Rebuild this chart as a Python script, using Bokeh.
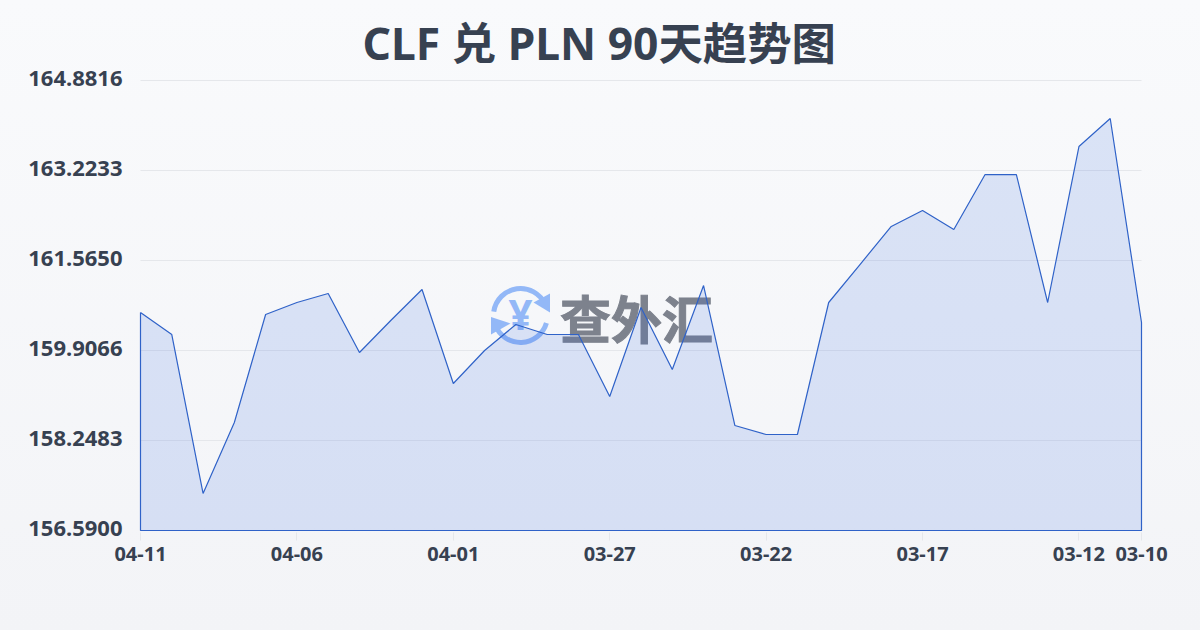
from bokeh.plotting import figure
from bokeh.embed import file_html
from bokeh.resources import INLINE
from bokeh.models import FixedTicker, Range1d, Title
from bokeh.core.properties import value

dates = ["04-11","04-10","04-09","04-08","04-07","04-06","04-05","04-04","04-03","04-02","04-01",
         "03-31","03-30","03-29","03-28","03-27","03-26","03-25","03-24","03-23","03-22",
         "03-21","03-20","03-19","03-18","03-17","03-16","03-15","03-14","03-13","03-12","03-11","03-10"]
rates = [160.607,160.201,157.272,158.580,160.570,160.791,160.957,159.870,160.459,161.031,159.299,
         159.907,160.386,160.201,160.201,159.059,160.699,159.557,161.104,158.525,158.359,
         158.359,160.791,161.491,162.192,162.486,162.136,163.149,163.149,160.791,163.665,164.181,160.423]
y_ticks = [156.5900,158.2483,159.9066,161.5650,163.2233,164.8816]
y_labels = ["156.5900","158.2483","159.9066","161.5650","163.2233","164.8816"]
x_tick_idx = [0,5,10,15,20,25,30,32]
title = "CLF 兑 PLN 90天趋势图"
brand = "查外汇"

xs = list(range(len(dates)))
base = y_ticks[0]
TXT = "#374151"
LATIN = "Noto Sans"
CJK = "Noto Sans CJK SC"
STACK = "'Noto Sans', 'Noto Sans CJK SC'"

# 2px of slack round the plot so the outline is not clipped by the frame
pad_x = 2 * (len(dates)-1) / 1001
px_y = (y_ticks[-1]-y_ticks[0]) / 450
pad_y = 2 * px_y

p = figure(width=1200, height=630, output_backend="svg", toolbar_location=None,
           x_range=Range1d(-pad_x, len(dates)-1+pad_x), y_range=Range1d(y_ticks[0]-pad_y, y_ticks[-1]+pad_y),
           min_border_left=138, min_border_right=57, min_border_top=78, min_border_bottom=98,
           background_fill_color=None, border_fill_color=None, outline_line_color=None)
p.extra_x_ranges["px"] = Range1d(138, 1143)
p.extra_y_ranges["px"] = Range1d(532, 78)
# y axis labels sit 2px above their gridlines
p.extra_y_ranges["labels"] = Range1d(y_ticks[0]-pad_y-2*px_y, y_ticks[-1]+pad_y-2*px_y)

p.add_layout(Title(text=title, align="left", offset=224, standoff=11, text_font=STACK,
                   text_font_style="bold", text_font_size="44.4px", text_color=TXT), "above")

# axes
p.yaxis[0].y_range_name = "labels"
p.yaxis.ticker = FixedTicker(ticks=y_ticks)
p.yaxis.major_label_overrides = dict(zip(y_ticks, y_labels))
p.yaxis.axis_line_color = None
p.yaxis.major_tick_line_color = None
p.yaxis.major_tick_out = 0
p.yaxis.major_tick_in = 0
p.yaxis.minor_tick_line_color = None
p.yaxis.major_label_standoff = 16
p.yaxis.major_label_text_font = LATIN
p.yaxis.major_label_text_font_size = "22px"
p.yaxis.major_label_text_font_style = "bold"
p.yaxis.major_label_text_color = TXT

p.xaxis.ticker = FixedTicker(ticks=x_tick_idx)
p.xaxis.major_label_overrides = {i: dates[i] for i in x_tick_idx}
p.xaxis.axis_line_color = None
p.xaxis.major_tick_line_color = "#e5e7eb"
p.xaxis.major_tick_in = 0
p.xaxis.major_tick_out = 8
p.xaxis.minor_tick_line_color = None
p.xaxis.major_label_standoff = 6
p.xaxis.major_label_text_font = LATIN
p.xaxis.major_label_text_font_size = "20px"
p.xaxis.major_label_text_font_style = "bold"
p.xaxis.major_label_text_color = TXT

p.grid.visible = False
p.segment([xs[0]]*len(y_ticks), y_ticks, [xs[-1]]*len(y_ticks), y_ticks, line_color="#e5e7eb", line_width=1)

# watermark, under the series
WM = {"x_range_name": "px", "y_range_name": "px"}
ICON = "#93b8f7"
p.text([636], [316], text=[brand], text_font=value(CJK), text_font_style="bold",
       text_font_size="51px", text_color="#7d828d", text_outline_color="#7d828d",
       text_align="center", text_baseline="middle", **WM)
p.text([520], [313], text=["¥"], text_font=value(LATIN), text_font_style="bold",
       text_font_size="42px", text_color=ICON, text_align="center", text_baseline="middle", **WM)
p.arc([520], [315], radius=27, radius_units="screen", start_angle=0.42, end_angle=3.0,
      line_color=ICON, line_width=5, **WM)
p.arc([520], [315], radius=27, radius_units="screen", start_angle=3.5, end_angle=6.0,
      line_color=ICON, line_width=5, **WM)
p.patch([549.5, 549.5, 533], [293, 312, 302], fill_color=ICON, line_color=None, **WM)
p.patch([490.5, 490.5, 510], [316.5, 334, 323], fill_color=ICON, line_color=None, **WM)

# series
p.varea(xs, [base]*len(xs), rates, fill_color="#2f68e0", fill_alpha=0.15)
p.line(xs + [xs[-1], xs[0], xs[0]], rates + [base, base, rates[0]], line_color="#2f62c8", line_width=1.2)

html = file_html(p, INLINE)
html = html.replace("</head>", "<style>html,body{margin:0;padding:0;height:630px;overflow:hidden;background:linear-gradient(180deg,#f9fafc,#f3f4f7) no-repeat}</style></head>", 1)
open("out.html", "w").write(html)
